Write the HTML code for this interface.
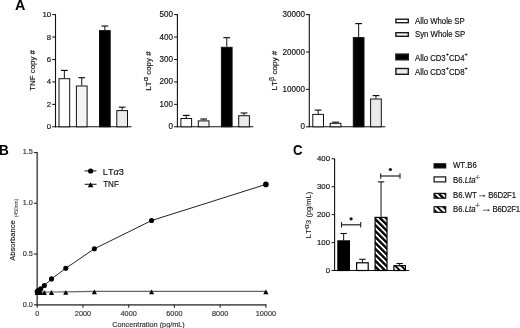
<!DOCTYPE html><html><head><meta charset="utf-8"><style>html,body{margin:0;padding:0;background:#fff;width:520px;height:328px;overflow:hidden}svg{display:block;will-change:transform;filter:blur(0.3px);font-kerning:none;font-feature-settings:"kern" 0}</style></head><body>
<svg width="520" height="328" viewBox="0 0 520 328" font-family='"Liberation Sans", sans-serif'>
<defs><pattern id="h1" patternUnits="userSpaceOnUse" width="4.2" height="4.2" patternTransform="rotate(45)"><rect width="4.2" height="4.2" fill="#000"/><rect x="0" y="0" width="4.2" height="1.8" fill="#fff"/></pattern><pattern id="h2" patternUnits="userSpaceOnUse" width="4.2" height="4.2" patternTransform="rotate(45)"><rect width="4.2" height="4.2" fill="#fff"/><rect x="0" y="0" width="4.2" height="1.8" fill="#000"/></pattern></defs>
<text transform="translate(15.00,10.20)" font-size="14.4" fill="#000" font-weight="bold">A</text>
<line x1="55.5" y1="14.1" x2="55.5" y2="127.3" stroke="#111" stroke-width="1.1"/>
<line x1="55.0" y1="126.8" x2="131.5" y2="126.8" stroke="#111" stroke-width="1.1"/>
<line x1="52.2" y1="126.8" x2="55.5" y2="126.8" stroke="#111" stroke-width="1"/>
<text transform="translate(51.10,129.30) scale(1,1.02)" text-anchor="end" font-size="7.8" fill="#111" stroke="#111" stroke-width="0.16">0</text>
<line x1="52.2" y1="104.36" x2="55.5" y2="104.36" stroke="#111" stroke-width="1"/>
<text transform="translate(51.10,106.86) scale(1,1.02)" text-anchor="end" font-size="7.8" fill="#111" stroke="#111" stroke-width="0.16">2</text>
<line x1="52.2" y1="81.91999999999999" x2="55.5" y2="81.91999999999999" stroke="#111" stroke-width="1"/>
<text transform="translate(51.10,84.42) scale(1,1.02)" text-anchor="end" font-size="7.8" fill="#111" stroke="#111" stroke-width="0.16">4</text>
<line x1="52.2" y1="59.47999999999999" x2="55.5" y2="59.47999999999999" stroke="#111" stroke-width="1"/>
<text transform="translate(51.10,61.98) scale(1,1.02)" text-anchor="end" font-size="7.8" fill="#111" stroke="#111" stroke-width="0.16">6</text>
<line x1="52.2" y1="37.03999999999999" x2="55.5" y2="37.03999999999999" stroke="#111" stroke-width="1"/>
<text transform="translate(51.10,39.54) scale(1,1.02)" text-anchor="end" font-size="7.8" fill="#111" stroke="#111" stroke-width="0.16">8</text>
<line x1="52.2" y1="14.599999999999994" x2="55.5" y2="14.599999999999994" stroke="#111" stroke-width="1"/>
<text transform="translate(51.10,17.10) scale(1,1.02)" text-anchor="end" font-size="7.8" fill="#111" stroke="#111" stroke-width="0.16">10</text>
<line x1="64.35" y1="70.4" x2="64.35" y2="78.2" stroke="#111" stroke-width="1"/>
<line x1="60.949999999999996" y1="70.4" x2="67.75" y2="70.4" stroke="#111" stroke-width="1.15"/>
<rect x="59.0" y="78.7" width="10.7" height="48.099999999999994" fill="#fff" stroke="#111" stroke-width="1"/>
<line x1="81.75" y1="77.7" x2="81.75" y2="85.5" stroke="#111" stroke-width="1"/>
<line x1="78.35" y1="77.7" x2="85.15" y2="77.7" stroke="#111" stroke-width="1.15"/>
<rect x="76.4" y="86.0" width="10.7" height="40.8" fill="#f4f4f4" stroke="#111" stroke-width="1"/>
<line x1="104.85" y1="26.0" x2="104.85" y2="30.1" stroke="#111" stroke-width="1"/>
<line x1="101.44999999999999" y1="26.0" x2="108.25" y2="26.0" stroke="#111" stroke-width="1.15"/>
<rect x="99.5" y="30.6" width="10.7" height="96.19999999999999" fill="#000" stroke="#111" stroke-width="1"/>
<line x1="122.14999999999999" y1="107.2" x2="122.14999999999999" y2="110.1" stroke="#111" stroke-width="1"/>
<line x1="118.74999999999999" y1="107.2" x2="125.55" y2="107.2" stroke="#111" stroke-width="1.15"/>
<rect x="116.8" y="110.6" width="10.7" height="16.200000000000003" fill="#ebebeb" stroke="#111" stroke-width="1"/>
<text transform="translate(35.00,70.40) rotate(-90)" text-anchor="middle" font-size="7.9" fill="#111" stroke="#111" stroke-width="0.16">TNF copy #</text>
<line x1="177.4" y1="14.1" x2="177.4" y2="127.3" stroke="#111" stroke-width="1.1"/>
<line x1="176.9" y1="126.8" x2="253.4" y2="126.8" stroke="#111" stroke-width="1.1"/>
<line x1="174.1" y1="126.8" x2="177.4" y2="126.8" stroke="#111" stroke-width="1"/>
<text transform="translate(173.00,129.30) scale(1,1.02)" text-anchor="end" font-size="8.1" fill="#111" stroke="#111" stroke-width="0.16">0</text>
<line x1="174.1" y1="104.36" x2="177.4" y2="104.36" stroke="#111" stroke-width="1"/>
<text transform="translate(173.00,106.86) scale(1,1.02)" text-anchor="end" font-size="8.1" fill="#111" stroke="#111" stroke-width="0.16">100</text>
<line x1="174.1" y1="81.91999999999999" x2="177.4" y2="81.91999999999999" stroke="#111" stroke-width="1"/>
<text transform="translate(173.00,84.42) scale(1,1.02)" text-anchor="end" font-size="8.1" fill="#111" stroke="#111" stroke-width="0.16">200</text>
<line x1="174.1" y1="59.47999999999999" x2="177.4" y2="59.47999999999999" stroke="#111" stroke-width="1"/>
<text transform="translate(173.00,61.98) scale(1,1.02)" text-anchor="end" font-size="8.1" fill="#111" stroke="#111" stroke-width="0.16">300</text>
<line x1="174.1" y1="37.03999999999999" x2="177.4" y2="37.03999999999999" stroke="#111" stroke-width="1"/>
<text transform="translate(173.00,39.54) scale(1,1.02)" text-anchor="end" font-size="8.1" fill="#111" stroke="#111" stroke-width="0.16">400</text>
<line x1="174.1" y1="14.599999999999994" x2="177.4" y2="14.599999999999994" stroke="#111" stroke-width="1"/>
<text transform="translate(173.00,17.10) scale(1,1.02)" text-anchor="end" font-size="8.1" fill="#111" stroke="#111" stroke-width="0.16">500</text>
<line x1="186.25" y1="115.4" x2="186.25" y2="118.0" stroke="#111" stroke-width="1"/>
<line x1="182.85" y1="115.4" x2="189.65" y2="115.4" stroke="#111" stroke-width="1.15"/>
<rect x="180.9" y="118.5" width="10.7" height="8.299999999999997" fill="#fff" stroke="#111" stroke-width="1"/>
<line x1="203.65" y1="119.0" x2="203.65" y2="120.4" stroke="#111" stroke-width="1"/>
<line x1="200.25" y1="119.0" x2="207.05" y2="119.0" stroke="#111" stroke-width="1.15"/>
<rect x="198.3" y="120.9" width="10.7" height="5.8999999999999915" fill="#f4f4f4" stroke="#111" stroke-width="1"/>
<line x1="226.75" y1="37.7" x2="226.75" y2="46.8" stroke="#111" stroke-width="1"/>
<line x1="223.35" y1="37.7" x2="230.15" y2="37.7" stroke="#111" stroke-width="1.15"/>
<rect x="221.4" y="47.3" width="10.7" height="79.5" fill="#000" stroke="#111" stroke-width="1"/>
<line x1="244.04999999999998" y1="113.0" x2="244.04999999999998" y2="115.2" stroke="#111" stroke-width="1"/>
<line x1="240.64999999999998" y1="113.0" x2="247.45" y2="113.0" stroke="#111" stroke-width="1.15"/>
<rect x="238.7" y="115.7" width="10.7" height="11.099999999999994" fill="#ebebeb" stroke="#111" stroke-width="1"/>
<text transform="translate(151.20,71.00) rotate(-90)" text-anchor="middle" font-size="8.0" fill="#111" stroke="#111" stroke-width="0.16">LT<tspan font-size="7.4" dy="-3.0">α</tspan><tspan dy="3.0"> copy #</tspan></text>
<line x1="309.3" y1="14.1" x2="309.3" y2="127.3" stroke="#111" stroke-width="1.1"/>
<line x1="308.8" y1="126.8" x2="385.3" y2="126.8" stroke="#111" stroke-width="1.1"/>
<line x1="306.0" y1="126.8" x2="309.3" y2="126.8" stroke="#111" stroke-width="1"/>
<text transform="translate(304.90,129.30) scale(1,1.02)" text-anchor="end" font-size="8.1" fill="#111" stroke="#111" stroke-width="0.16">0</text>
<line x1="306.0" y1="89.39999999999999" x2="309.3" y2="89.39999999999999" stroke="#111" stroke-width="1"/>
<text transform="translate(304.90,91.90) scale(1,1.02)" text-anchor="end" font-size="8.1" fill="#111" stroke="#111" stroke-width="0.16">10000</text>
<line x1="306.0" y1="51.999999999999986" x2="309.3" y2="51.999999999999986" stroke="#111" stroke-width="1"/>
<text transform="translate(304.90,54.50) scale(1,1.02)" text-anchor="end" font-size="8.1" fill="#111" stroke="#111" stroke-width="0.16">20000</text>
<line x1="306.0" y1="14.599999999999994" x2="309.3" y2="14.599999999999994" stroke="#111" stroke-width="1"/>
<text transform="translate(304.90,17.10) scale(1,1.02)" text-anchor="end" font-size="8.1" fill="#111" stroke="#111" stroke-width="0.16">30000</text>
<line x1="318.15000000000003" y1="110.1" x2="318.15000000000003" y2="113.9" stroke="#111" stroke-width="1"/>
<line x1="314.75000000000006" y1="110.1" x2="321.55" y2="110.1" stroke="#111" stroke-width="1.15"/>
<rect x="312.8" y="114.4" width="10.7" height="12.399999999999991" fill="#fff" stroke="#111" stroke-width="1"/>
<line x1="335.55" y1="122.2" x2="335.55" y2="122.8" stroke="#111" stroke-width="1"/>
<line x1="332.15000000000003" y1="122.2" x2="338.95" y2="122.2" stroke="#111" stroke-width="1.15"/>
<rect x="330.2" y="123.3" width="10.7" height="3.5" fill="#f4f4f4" stroke="#111" stroke-width="1"/>
<line x1="358.65000000000003" y1="23.6" x2="358.65000000000003" y2="37.1" stroke="#111" stroke-width="1"/>
<line x1="355.25000000000006" y1="23.6" x2="362.05" y2="23.6" stroke="#111" stroke-width="1.15"/>
<rect x="353.3" y="37.6" width="10.7" height="89.19999999999999" fill="#000" stroke="#111" stroke-width="1"/>
<line x1="375.95000000000005" y1="95.6" x2="375.95000000000005" y2="98.5" stroke="#111" stroke-width="1"/>
<line x1="372.55000000000007" y1="95.6" x2="379.35" y2="95.6" stroke="#111" stroke-width="1.15"/>
<rect x="370.6" y="99.0" width="10.7" height="27.799999999999997" fill="#ebebeb" stroke="#111" stroke-width="1"/>
<text transform="translate(277.40,70.60) rotate(-90)" text-anchor="middle" font-size="8.1" fill="#111" stroke="#111" stroke-width="0.16">LT<tspan font-size="7.2" dy="-3.0">β</tspan><tspan dy="3.0"> copy #</tspan></text>
<rect x="395.9" y="19.2" width="12.4" height="3.4999999999999987" fill="#fff" stroke="#1a1a1a" stroke-width="1.4"/>
<text transform="translate(415.00,23.60) scale(1,1.06)" font-size="7.8" fill="#111" stroke="#111" stroke-width="0.16">Allo Whole SP</text>
<rect x="395.9" y="32.7" width="12.4" height="3.6" fill="#f6f6f6" stroke="#1a1a1a" stroke-width="1.4"/>
<text transform="translate(415.00,37.00) scale(1,1.06)" font-size="7.8" fill="#111" stroke="#111" stroke-width="0.16">Syn Whole SP</text>
<rect x="395.9" y="54.1" width="12.4" height="5.700000000000001" fill="#000" stroke="#1a1a1a" stroke-width="1.4"/>
<text transform="translate(415.00,60.70) scale(1,1.06)" font-size="7.8" fill="#111" stroke="#111" stroke-width="0.16">Allo CD3<tspan font-size="5.5" dy="-4.2">+</tspan><tspan dy="4.2">CD4</tspan><tspan font-size="5.5" dy="-4.2">+</tspan></text>
<rect x="395.9" y="68.5" width="12.4" height="5.8000000000000025" fill="#ececec" stroke="#1a1a1a" stroke-width="1.4"/>
<text transform="translate(415.00,74.80) scale(1,1.06)" font-size="7.8" fill="#111" stroke="#111" stroke-width="0.16">Allo CD3<tspan font-size="5.5" dy="-4.2">+</tspan><tspan dy="4.2">CD8</tspan><tspan font-size="5.5" dy="-4.2">+</tspan></text>
<text transform="translate(-1.00,154.60) scale(1,1.1)" font-size="13.6" fill="#000" font-weight="bold">B</text>
<line x1="37.2" y1="152" x2="37.2" y2="305.6" stroke="#5e5e5e" stroke-width="1.7"/>
<line x1="36.400000000000006" y1="304.8" x2="266.5" y2="304.8" stroke="#5e5e5e" stroke-width="1.7"/>
<line x1="33.900000000000006" y1="304.8" x2="37.2" y2="304.8" stroke="#2a2a2a" stroke-width="1.1"/>
<text transform="translate(32.80,306.60) scale(1,0.95)" text-anchor="end" font-size="7.3" fill="#333" stroke="#333" stroke-width="0.16">0.0</text>
<line x1="33.900000000000006" y1="254.05" x2="37.2" y2="254.05" stroke="#2a2a2a" stroke-width="1.1"/>
<text transform="translate(32.80,255.85) scale(1,0.95)" text-anchor="end" font-size="7.3" fill="#333" stroke="#333" stroke-width="0.16">0.5</text>
<line x1="33.900000000000006" y1="203.3" x2="37.2" y2="203.3" stroke="#2a2a2a" stroke-width="1.1"/>
<text transform="translate(32.80,205.10) scale(1,0.95)" text-anchor="end" font-size="7.3" fill="#333" stroke="#333" stroke-width="0.16">1.0</text>
<line x1="33.900000000000006" y1="152.55" x2="37.2" y2="152.55" stroke="#2a2a2a" stroke-width="1.1"/>
<text transform="translate(32.80,154.35) scale(1,0.95)" text-anchor="end" font-size="7.3" fill="#333" stroke="#333" stroke-width="0.16">1.5</text>
<line x1="37.2" y1="304.8" x2="37.2" y2="307.7" stroke="#2a2a2a" stroke-width="1.1"/>
<text transform="translate(37.20,315.50) scale(1,1.05)" text-anchor="middle" font-size="7.3" fill="#333" stroke="#333" stroke-width="0.16">0</text>
<line x1="82.94" y1="304.8" x2="82.94" y2="307.7" stroke="#2a2a2a" stroke-width="1.1"/>
<text transform="translate(82.94,315.50) scale(1,1.05)" text-anchor="middle" font-size="7.3" fill="#333" stroke="#333" stroke-width="0.16">2000</text>
<line x1="128.68" y1="304.8" x2="128.68" y2="307.7" stroke="#2a2a2a" stroke-width="1.1"/>
<text transform="translate(128.68,315.50) scale(1,1.05)" text-anchor="middle" font-size="7.3" fill="#333" stroke="#333" stroke-width="0.16">4000</text>
<line x1="174.42000000000002" y1="304.8" x2="174.42000000000002" y2="307.7" stroke="#2a2a2a" stroke-width="1.1"/>
<text transform="translate(174.42,315.50) scale(1,1.05)" text-anchor="middle" font-size="7.3" fill="#333" stroke="#333" stroke-width="0.16">6000</text>
<line x1="220.16000000000003" y1="304.8" x2="220.16000000000003" y2="307.7" stroke="#2a2a2a" stroke-width="1.1"/>
<text transform="translate(220.16,315.50) scale(1,1.05)" text-anchor="middle" font-size="7.3" fill="#333" stroke="#333" stroke-width="0.16">8000</text>
<line x1="265.90000000000003" y1="304.8" x2="265.90000000000003" y2="307.7" stroke="#2a2a2a" stroke-width="1.1"/>
<text transform="translate(265.90,315.50) scale(1,1.05)" text-anchor="middle" font-size="7.3" fill="#333" stroke="#333" stroke-width="0.16">10000</text>
<text transform="translate(148.50,326.50) scale(1,1.06)" text-anchor="middle" font-size="7.3" fill="#333" stroke="#333" stroke-width="0.16">Concentration (pg/mL)</text>
<text transform="translate(15.00,240.60) rotate(-90) scale(1,0.92)" text-anchor="middle" font-size="7.6" fill="#222" stroke="#222" stroke-width="0.16">Absorbance</text>
<text transform="translate(17.60,207.90) rotate(-90)" text-anchor="middle" font-size="4.9" fill="#333" stroke="#333" stroke-width="0.05">(450nm)</text>
<polyline points="37.20,292.11 38.09,292.11 38.98,292.11 40.77,292.21 44.34,292.21 51.49,292.01 65.79,291.81 94.38,291.30 151.55,291.30 265.90,291.30" fill="none" stroke="#666" stroke-width="1.2"/>
<path d="M34.60,294.99 L39.80,294.99 L37.20,290.19 Z" fill="#000"/>
<path d="M35.49,294.99 L40.69,294.99 L38.09,290.19 Z" fill="#000"/>
<path d="M36.38,294.99 L41.58,294.99 L38.98,290.19 Z" fill="#000"/>
<path d="M38.17,295.09 L43.37,295.09 L40.77,290.29 Z" fill="#000"/>
<path d="M41.74,295.09 L46.94,295.09 L44.34,290.29 Z" fill="#000"/>
<path d="M48.89,294.89 L54.09,294.89 L51.49,290.09 Z" fill="#000"/>
<path d="M63.19,294.69 L68.39,294.69 L65.79,289.89 Z" fill="#000"/>
<path d="M91.78,294.18 L96.97,294.18 L94.38,289.38 Z" fill="#000"/>
<path d="M148.95,294.18 L154.15,294.18 L151.55,289.38 Z" fill="#000"/>
<path d="M263.30,294.18 L268.50,294.18 L265.90,289.38 Z" fill="#000"/>
<polyline points="37.20,291.40 38.09,290.89 38.98,290.29 40.77,288.76 44.34,285.51 51.49,278.92 65.79,268.26 94.38,248.77 151.55,220.56 265.90,184.42" fill="none" stroke="#222" stroke-width="1"/>
<circle cx="37.20" cy="291.40" r="2.55" fill="#000"/>
<circle cx="38.09" cy="290.89" r="2.55" fill="#000"/>
<circle cx="38.98" cy="290.29" r="2.55" fill="#000"/>
<circle cx="40.77" cy="288.76" r="2.55" fill="#000"/>
<circle cx="44.34" cy="285.51" r="2.55" fill="#000"/>
<circle cx="51.49" cy="278.92" r="2.55" fill="#000"/>
<circle cx="65.79" cy="268.26" r="2.55" fill="#000"/>
<circle cx="94.38" cy="248.77" r="2.55" fill="#000"/>
<circle cx="151.55" cy="220.56" r="2.55" fill="#000"/>
<circle cx="265.90" cy="184.42" r="2.8" fill="#000"/>
<line x1="84.6" y1="170.9" x2="96.5" y2="170.9" stroke="#222" stroke-width="1.1"/>
<circle cx="90.6" cy="171.0" r="2.6" fill="#000"/>
<line x1="84.6" y1="184.3" x2="96.5" y2="184.3" stroke="#222" stroke-width="1.1"/>
<path d="M87.80,187.30 L93.40,187.30 L90.60,182.30 Z" fill="#000"/>
<text transform="translate(102.80,174.70) scale(1,1.12)" font-size="8.6" fill="#111" stroke="#111" stroke-width="0.16" textLength="21" lengthAdjust="spacingAndGlyphs">LT<tspan font-style="italic">α</tspan>3</text>
<text transform="translate(103.20,187.20) scale(1,1.08)" font-size="8.5" fill="#111" stroke="#111" stroke-width="0.16" textLength="15.6" lengthAdjust="spacingAndGlyphs">TNF</text>
<text transform="translate(292.90,154.90) scale(1,1.12)" font-size="13.2" fill="#000" font-weight="bold">C</text>
<line x1="334.6" y1="158.4" x2="334.6" y2="271.0" stroke="#111" stroke-width="1.1"/>
<line x1="334.1" y1="270.5" x2="409.2" y2="270.5" stroke="#111" stroke-width="1.1"/>
<line x1="331.6" y1="270.5" x2="334.6" y2="270.5" stroke="#111" stroke-width="1"/>
<text transform="translate(330.00,272.80) scale(1,1.02)" text-anchor="end" font-size="7.8" fill="#111" stroke="#111" stroke-width="0.16">0</text>
<line x1="331.6" y1="242.575" x2="334.6" y2="242.575" stroke="#111" stroke-width="1"/>
<text transform="translate(330.00,244.88) scale(1,1.02)" text-anchor="end" font-size="7.8" fill="#111" stroke="#111" stroke-width="0.16">100</text>
<line x1="331.6" y1="214.65" x2="334.6" y2="214.65" stroke="#111" stroke-width="1"/>
<text transform="translate(330.00,216.95) scale(1,1.02)" text-anchor="end" font-size="7.8" fill="#111" stroke="#111" stroke-width="0.16">200</text>
<line x1="331.6" y1="186.725" x2="334.6" y2="186.725" stroke="#111" stroke-width="1"/>
<text transform="translate(330.00,189.03) scale(1,1.02)" text-anchor="end" font-size="7.8" fill="#111" stroke="#111" stroke-width="0.16">300</text>
<line x1="331.6" y1="158.8" x2="334.6" y2="158.8" stroke="#111" stroke-width="1"/>
<text transform="translate(330.00,161.10) scale(1,1.02)" text-anchor="end" font-size="7.8" fill="#111" stroke="#111" stroke-width="0.16">400</text>
<line x1="343.65" y1="233.5" x2="343.65" y2="240.3" stroke="#111" stroke-width="1"/>
<line x1="340.45" y1="233.5" x2="346.84999999999997" y2="233.5" stroke="#111" stroke-width="1.1"/>
<rect x="337.90000000000003" y="240.9" width="11.49999999999999" height="29.599999999999987" fill="#000" stroke="#000" stroke-width="1.2"/>
<line x1="362.4" y1="259.3" x2="362.4" y2="262.2" stroke="#111" stroke-width="1"/>
<line x1="359.2" y1="259.3" x2="365.59999999999997" y2="259.3" stroke="#111" stroke-width="1.1"/>
<rect x="356.6" y="262.8" width="11.600000000000012" height="7.700000000000012" fill="#fff" stroke="#000" stroke-width="1.2"/>
<line x1="381.05" y1="181.9" x2="381.05" y2="216.8" stroke="#111" stroke-width="1"/>
<line x1="377.85" y1="181.9" x2="384.25" y2="181.9" stroke="#111" stroke-width="1.1"/>
<rect x="375.1" y="217.4" width="11.900000000000023" height="53.09999999999999" fill="url(#h1)" stroke="#000" stroke-width="1.2"/>
<line x1="399.65" y1="263.5" x2="399.65" y2="265.1" stroke="#111" stroke-width="1"/>
<line x1="396.45" y1="263.5" x2="402.84999999999997" y2="263.5" stroke="#111" stroke-width="1.1"/>
<rect x="393.90000000000003" y="265.70000000000005" width="11.49999999999999" height="4.799999999999978" fill="url(#h2)" stroke="#000" stroke-width="1.2"/>
<line x1="341.5" y1="224.8" x2="360.7" y2="224.8" stroke="#222" stroke-width="1.2"/>
<line x1="341.5" y1="222.0" x2="341.5" y2="227.60000000000002" stroke="#222" stroke-width="1.1"/>
<line x1="360.7" y1="222.0" x2="360.7" y2="227.60000000000002" stroke="#222" stroke-width="1.1"/>
<circle cx="351.10" cy="218.8" r="1.6" fill="#111"/>
<line x1="380.7" y1="176.0" x2="400.0" y2="176.0" stroke="#222" stroke-width="1.2"/>
<line x1="380.7" y1="173.2" x2="380.7" y2="178.8" stroke="#222" stroke-width="1.1"/>
<line x1="400.0" y1="173.2" x2="400.0" y2="178.8" stroke="#222" stroke-width="1.1"/>
<circle cx="390.35" cy="169.5" r="1.6" fill="#111"/>
<text transform="translate(310.90,215.10) rotate(-90) scale(1,0.86)" text-anchor="middle" font-size="8.0" fill="#111" stroke="#111" stroke-width="0.05">LT<tspan font-size="8.4" dy="-2.2">α</tspan><tspan dy="2.2">3 </tspan><tspan font-size="7.5">(pg/mL)</tspan></text>
<rect x="434.1" y="163.79999999999998" width="11.6" height="4.100000000000011" fill="#000" stroke="#111" stroke-width="1.2"/>
<text transform="translate(453.00,168.00) scale(1,1.06)" font-size="7.8" fill="#111" stroke="#111" stroke-width="0.16">WT.B6</text>
<rect x="434.1" y="176.9" width="11.6" height="4.9999999999999885" fill="#fff" stroke="#111" stroke-width="1.2"/>
<text transform="translate(453.00,183.00) scale(1,1.06)" font-size="7.8" fill="#111" stroke="#111" stroke-width="0.16">B6.<tspan font-style="italic">Lta</tspan><tspan font-size="4.5" dy="-4.2">-/-</tspan></text>
<rect x="434.1" y="193.4" width="11.6" height="4.8" fill="url(#h1)" stroke="#111" stroke-width="1.2"/>
<text transform="translate(453.00,198.00) scale(1,1.06)" font-size="7.8" fill="#111" stroke="#111" stroke-width="0.16">B6.WT</text>
<rect x="434.1" y="206.7" width="11.6" height="5.600000000000011" fill="url(#h2)" stroke="#111" stroke-width="1.2"/>
<text transform="translate(453.00,211.70) scale(1,1.06)" font-size="7.8" fill="#111" stroke="#111" stroke-width="0.16">B6.<tspan font-style="italic">Lta</tspan><tspan font-size="4.5" dy="-4.2">-/-</tspan></text>
<line x1="479.1" y1="195.8" x2="484.5" y2="195.8" stroke="#333" stroke-width="0.75"/>
<path d="M485.5,195.8 L483.5,194.60000000000002 L483.5,197.0 Z" fill="#333"/>
<text transform="translate(488.20,198.00) scale(1,1.06)" font-size="7.8" fill="#111" stroke="#111" stroke-width="0.16" textLength="27.8" lengthAdjust="spacing">B6D2F1</text>
<line x1="483.0" y1="210.2" x2="488.8" y2="210.2" stroke="#333" stroke-width="0.75"/>
<path d="M489.8,210.2 L487.8,209.0 L487.8,211.39999999999998 Z" fill="#333"/>
<text transform="translate(492.40,211.70) scale(1,1.06)" font-size="7.8" fill="#111" stroke="#111" stroke-width="0.16" textLength="27.8" lengthAdjust="spacing">B6D2F1</text>
</svg></body></html>
